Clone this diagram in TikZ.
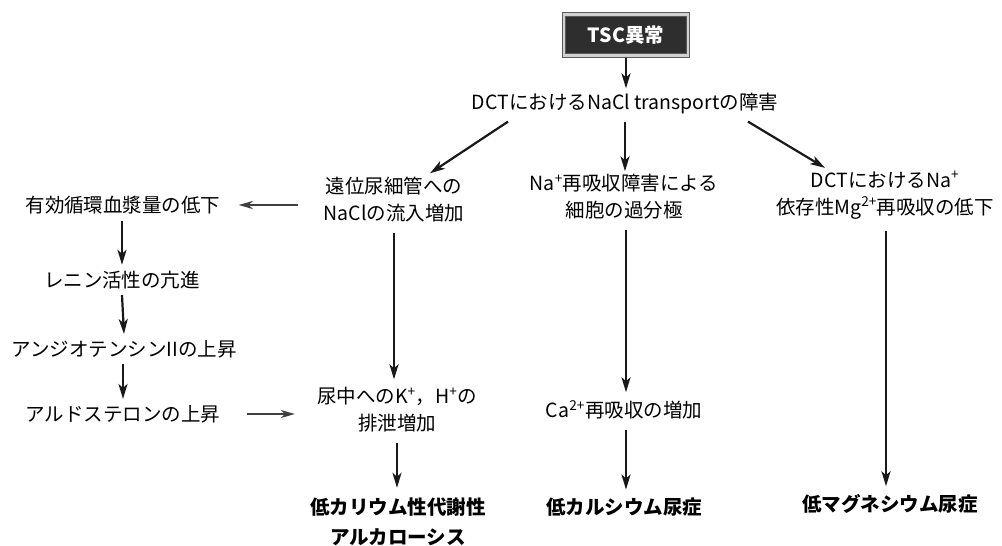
\documentclass[tikz,border=0pt]{standalone}
\usepackage{fontspec}
\setmainfont{Noto Sans CJK JP}
\usetikzlibrary{arrows.meta}
\begin{document}
\begin{tikzpicture}[x=1pt,y=-1pt,
  txt/.style={font=\fontsize{19.5}{27}\selectfont, align=center, inner sep=0pt},
  fin/.style={font=\fontsize{19.5}{30}\selectfont\bfseries, align=center, inner sep=0pt},
  arr/.style={line width=2.2pt, black!90, -{Stealth[length=15pt,width=9pt,inset=4pt]}},
  harr/.style={line width=1.7pt, black!75, -{Stealth[length=14pt,width=8pt,inset=4pt]}},
  topbox/.style={fill=black!82, draw=black!65, line width=0.8pt, double=black!18, double distance=2.5pt,
    minimum width=124pt, minimum height=41pt, text=white, font=\fontsize{19.5}{24}\selectfont\bfseries, inner sep=0pt}]
\useasboundingbox (0,0) rectangle (1002,546);
\fill[white] (0,0) rectangle (1002,546);

\node[topbox] (tsc) at (626,35) {TSC異常};
\node[txt] (dct) at (625,104) {DCTにおけるNaCl transportの障害};

\node[txt] (n1) at (394,200) {遠位尿細管への\\NaClの流入増加};
\node[txt] (n2) at (624,197) {Na\textsuperscript{+}再吸収障害による\\細胞の過分極};
\node[txt] (n3) at (885,195) {DCTにおけるNa\textsuperscript{+}\\依存性Mg\textsuperscript{2+}再吸収の低下};

\node[txt] (l1) at (123,205) {有効循環血漿量の低下};
\node[txt] (l2) at (122,280) {レニン活性の亢進};
\node[txt] (l3) at (124,349) {アンジオテンシンIIの上昇};
\node[txt] (l4) at (123,414) {アルドステロンの上昇};

\node[txt] (k) at (397,410) {尿中へのK\textsuperscript{+}，H\textsuperscript{+}の\\排泄増加};
\node[txt] (ca) at (624,410) {Ca\textsuperscript{2+}再吸収の増加};

\node[fin] (f1) at (398,522) {低カリウム性代謝性\\アルカローシス};
\node[fin] (f2) at (624,507) {低カルシウム尿症};
\node[fin] (f3) at (890,504) {低マグネシウム尿症};

% connectors (shift coordinates: positive y = downwards)
\draw[arr] ([shift={(0,2)}]tsc.south) -- ([shift={(0,-5)}]tsc.south |- dct.north);
\draw[arr] ([shift={(-117,7)}]dct.south) -- ([shift={(36,-4)}]n1.north);
\draw[arr] ([shift={(0,7)}]dct.south) -- ([shift={(1,-3)}]n2.north);
\draw[arr] ([shift={(123,7)}]dct.south) -- ([shift={(-60,-3)}]n3.north);

\draw[harr] ([xshift=-26pt]n1.west |- l1.east) -- ([xshift=18pt]l1.east);
\draw[arr] ([shift={(-1,7)}]l1.south) -- ([shift={(0,-6)}]l2.north);
\draw[arr] ([shift={(0,6)}]l2.south) -- ([shift={(0,-6)}]l3.north);
\draw[arr] ([shift={(-1,6)}]l3.south) -- ([shift={(0,-6)}]l4.north);
\draw[harr] ([xshift=26pt]l4.east) -- ([xshift=-22pt]k.west |- l4.east);

\draw[arr] ([shift={(0,10)}]n1.south) -- ([shift={(0,-8)}]n1.south |- k.north);
\draw[arr] ([shift={(0,10)}]k.south) -- ([shift={(0,-10)}]k.south |- f1.north);
\draw[arr] ([shift={(2,10)}]n2.south) -- ([shift={(2,-8)}]ca.north);
\draw[arr] ([shift={(2,10)}]ca.south) -- ([shift={(2,-8)}]f2.north);
\draw[arr] ([shift={(1,12)}]n3.south) -- ([shift={(-4,-8)}]f3.north);
\end{tikzpicture}
\end{document}
